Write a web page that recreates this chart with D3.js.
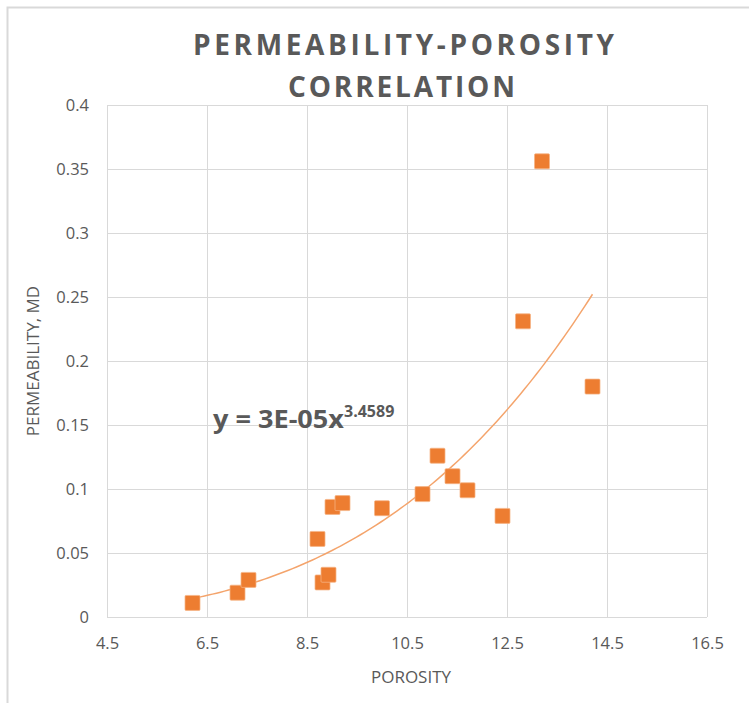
<!DOCTYPE html>
<html>
<head>
<meta charset="utf-8">
<style>
    body { margin: 0; background: #fff; }
    .grid line { stroke: #d9d9d9; stroke-width: 1; }
    .axis .domain, .axis line { display: none; }
    .axis text { fill: #595959; font-family: "Open Sans", sans-serif; font-size: 16.5px; }
</style>
</head>
<body>
<svg width="749" height="703"></svg>

<script src="https://d3js.org/d3.v7.min.js"></script>
<script>
    // porosity (%) and permeability (md)
    var porosity = [6.21, 7.11, 7.33, 8.71, 8.81, 8.93, 9.01, 9.21, 10.0, 10.81, 11.11, 11.41, 11.71, 12.41, 12.82, 13.2, 14.21];
    var permeability = [0.011, 0.019, 0.029, 0.061, 0.027, 0.033, 0.086, 0.089, 0.085, 0.096, 0.126, 0.110, 0.099, 0.079, 0.231, 0.356, 0.180];
    var xTicks = [4.5, 6.5, 8.5, 10.5, 12.5, 14.5, 16.5];
    var yTicks = [0, 0.05, 0.1, 0.15, 0.2, 0.25, 0.3, 0.35, 0.4];
    // power trendline y = a * x^b (label shows the rounded coefficient)
    var trendA = 2.6e-5, trendB = 3.4589;

    var data = porosity.map(function (d, i) { return { x: d, y: permeability[i] }; });

    var svg = d3.select("svg"),
        margin = { top: 105, right: 42, bottom: 86, left: 107 },
        width = +svg.attr("width") - margin.left - margin.right,
        height = +svg.attr("height") - margin.top - margin.bottom;

    // chart frame
    svg.append("rect")
        .attr("x", 7.5).attr("y", 7.5)
        .attr("width", 800).attr("height", 800)
        .attr("fill", "none")
        .attr("stroke", "#d9d9d9")
        .attr("stroke-width", 2);

    var g = svg.append("g").attr("transform", "translate(" + margin.left + "," + margin.top + ")");

    var x = d3.scaleLinear().domain([4.5, 16.5]).range([0, width]);
    var y = d3.scaleLinear().domain([0, 0.4]).range([height, 0]);

    // gridlines
    g.append("g").attr("class", "grid")
        .selectAll("line").data(xTicks).enter().append("line")
        .attr("x1", function (d) { return Math.round(x(d)) + 0.5; })
        .attr("x2", function (d) { return Math.round(x(d)) + 0.5; })
        .attr("y1", 0).attr("y2", height);
    g.append("g").attr("class", "grid")
        .selectAll("line").data(yTicks).enter().append("line")
        .attr("y1", function (d) { return Math.round(y(d)) + 0.5; })
        .attr("y2", function (d) { return Math.round(y(d)) + 0.5; })
        .attr("x1", 0).attr("x2", width);

    g.append("g")
        .attr("class", "axis")
        .attr("transform", "translate(0," + height + ")")
        .call(d3.axisBottom(x).tickValues(xTicks).tickSize(0).tickPadding(20).tickFormat(d3.format("")));

    g.append("g")
        .attr("class", "axis")
        .call(d3.axisLeft(y).tickValues(yTicks).tickSize(0).tickPadding(18).tickFormat(d3.format("")));

    // trendline
    var xs = d3.range(0, 101).map(function (i) {
        var lo = d3.min(porosity), hi = d3.max(porosity);
        return lo + (hi - lo) * i / 100;
    });
    g.append("path")
        .datum(xs)
        .attr("fill", "none")
        .attr("stroke", "#f4a46c")
        .attr("stroke-width", 1.5)
        .attr("d", d3.line()
            .x(function (d) { return x(d); })
            .y(function (d) { return y(trendA * Math.pow(d, trendB)); }));

    // markers
    g.append("g")
        .selectAll("rect")
        .data(data)
        .enter().append("rect")
        .attr("x", function (d) { return x(d.x) - 7.5; })
        .attr("y", function (d) { return y(d.y) - 7.5; })
        .attr("width", 15)
        .attr("height", 15)
        .attr("rx", 1)
        .attr("fill", "#ed7d31")
        .attr("stroke", "#f6b486")
        .attr("stroke-width", 0.75);

    // equation label
    var eq = svg.append("text")
        .attr("x", 213)
        .attr("y", 428)
        .attr("fill", "#595959")
        .attr("font-family", "Open Sans, sans-serif")
        .attr("font-weight", "bold")
        .attr("font-size", 25);
    eq.append("tspan").attr("textLength", 131).attr("lengthAdjust", "spacingAndGlyphs").text("y = 3E-05x");
    eq.append("tspan").attr("font-size", 16).attr("dy", -11).text("3.4589");

    // title
    var title = svg.append("g")
        .attr("fill", "#595959")
        .attr("font-family", "Open Sans, sans-serif")
        .attr("font-weight", "bold")
        .attr("font-size", 28);
    title.append("text")
        .attr("x", 193).attr("y", 55)
        .attr("textLength", 421).attr("lengthAdjust", "spacing")
        .text("PERMEABILITY-POROSITY");
    title.append("text")
        .attr("x", 288).attr("y", 97)
        .attr("textLength", 227).attr("lengthAdjust", "spacing")
        .text("CORRELATION");

    // axis titles
    svg.append("text")
        .attr("x", margin.left + width / 2 + 4)
        .attr("y", 683)
        .attr("text-anchor", "middle")
        .attr("fill", "#595959")
        .attr("font-family", "Open Sans, sans-serif")
        .attr("font-size", 17)
        .text("POROSITY");

    svg.append("text")
        .attr("transform", "translate(39," + 361 + ") rotate(-90)")
        .attr("text-anchor", "middle")
        .attr("fill", "#595959")
        .attr("font-family", "Open Sans, sans-serif")
        .attr("font-size", 17)
        .text("PERMEABILITY, MD");
</script>
</body>
</html>
